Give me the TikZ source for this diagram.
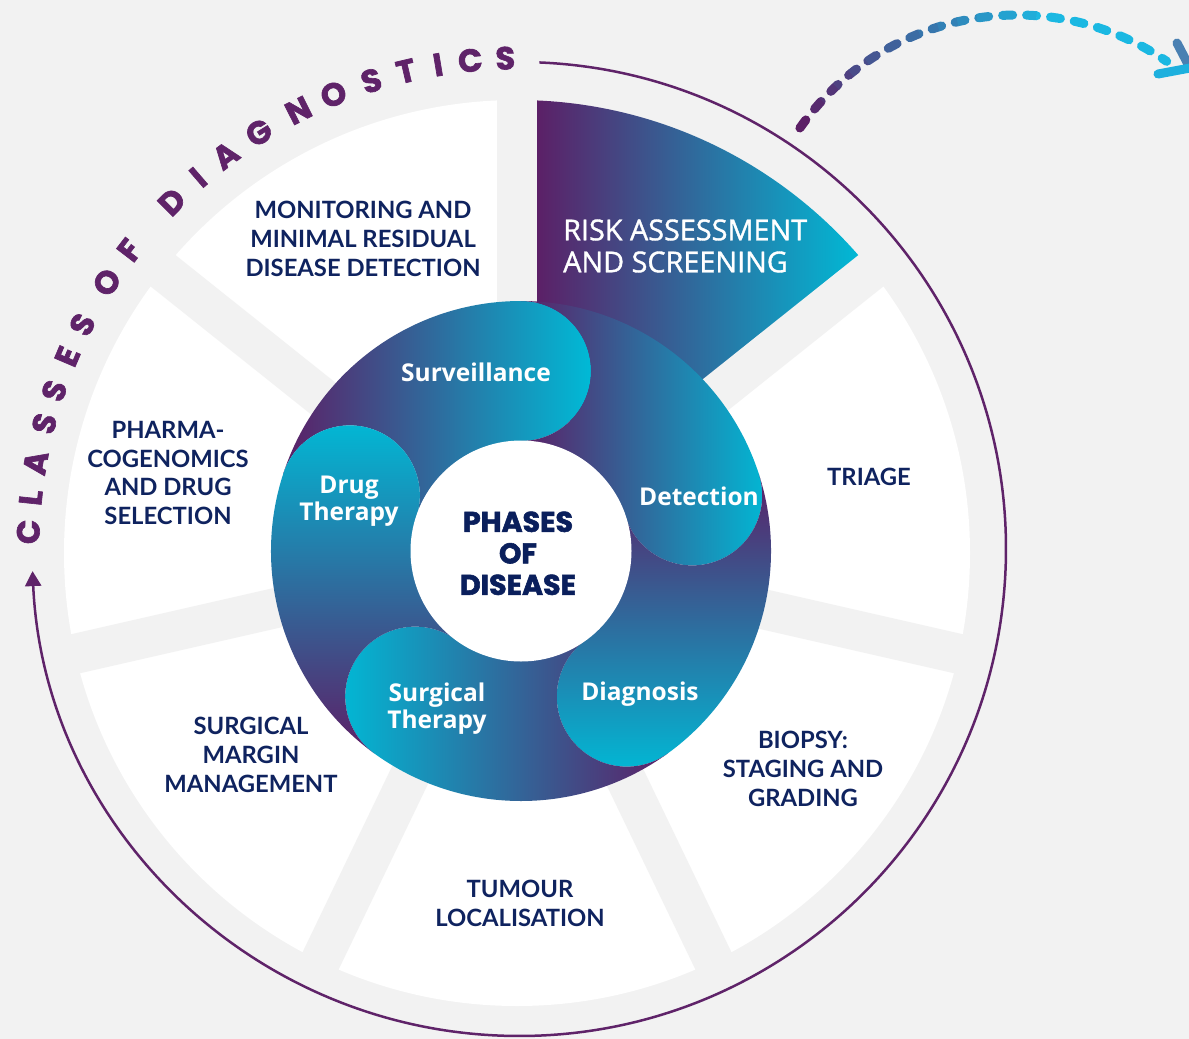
\documentclass[tikz,border=0pt]{standalone}
\usepackage{fontspec}
\setmainfont{Lato}
\newfontfamily\heavyfont{Poppins}[UprightFeatures={FakeBold=2}, BoldFeatures={FakeBold=2}]
\newfontfamily\osfont{Open Sans}
\newfontfamily\osmed{Open Sans}[UprightFeatures={FakeBold=1.2}]
\usetikzlibrary{arrows.meta}
\definecolor{bgc}{HTML}{F2F2F2}
\definecolor{purp}{HTML}{5C1F66}
\definecolor{cyn}{HTML}{00BAD6}
\definecolor{cyn2}{HTML}{1BB8E2}
\definecolor{navy}{HTML}{0F235F}
\definecolor{navyd}{HTML}{0A1F5C}
\definecolor{titlec}{HTML}{5F2369}
\begin{document}
\begin{tikzpicture}[x=1pt,y=1pt,
  lab/.style={text=navy, font=\fontsize{23.8}{28.7}\selectfont\bfseries, align=center, inner sep=0pt},
  risklab/.style={text=white, font=\osmed\fontsize{28.8}{32}\selectfont, align=left, inner sep=0pt},
  phlab/.style={text=white, font=\osfont\fontsize{24.5}{27}\selectfont\bfseries, align=center, inner sep=0pt},
  cenlab/.style={text=navyd, font=\heavyfont\bfseries\fontsize{28.5}{31.5}\selectfont, align=center, inner sep=0pt},
  titlel/.style={text=titlec, font=\heavyfont\bfseries\fontsize{32}{32}\selectfont, inner sep=0pt},
  shlr/.style={left color=purp, right color=cyn},
  shrl/.style={left color=cyn, right color=purp},
  shtb/.style={top color=purp, bottom color=cyn},
  shbt/.style={top color=cyn, bottom color=purp}]
\fill[bgc] (0,0) rectangle (1189,-1039);
\useasboundingbox (0,0) rectangle (1189,-1039);
\coordinate (sc) at (517,-553);
\coordinate (rc) at (521,-551);
\coordinate (cc) at (519,-549);
\coordinate (ac) at (1017,-280);

% white segments
\fill[white] (sc) circle[radius=453];
% risk segment
\begin{scope}
  \clip (sc) circle[radius=453];
  \clip (sc) -- ++(90:470) arc[start angle=90, end angle=38.571, radius=470] -- cycle;
  \shade[left color=purp, right color=cyn] (535,-95) rectangle (862,-420);
\end{scope}
% gaps
\foreach \a in {90,38.571,-12.857,-64.286,-115.714,-167.143,141.429}
  \draw[bgc, line width=40] (sc) -- ++(\a:475);

% phase ring
\foreach \h/\s in {90/shlr,18/shlr,-54/shtb,-126/shrl,162/shbt}
  \shade[\s, shift={(521,-551)}] (\h+72:250) arc[start angle=\h+72, end angle=\h, radius=250]
     arc[start angle=\h, end angle=\h-180, radius=70]
     arc[start angle=\h, end angle=\h+72, radius=110]
     arc[start angle=\h-108, end angle=\h+72, radius=70] -- cycle;
\fill[white] (rc) circle[radius=110.5];

% segment labels
\node[lab] (mon) at (363,-238.7) {MONITORING AND\\MINIMAL RESIDUAL\\DISEASE DETECTION};
\node[risklab, anchor=west] (risk) at (563,-246) {RISK ASSESSMENT\\AND SCREENING};
\node[lab] (tri) at (869,-477) {TRIAGE};
\node[lab] (bio) at (803,-769) {BIOPSY:\\STAGING AND\\GRADING};
\node[lab] (tum) at (520,-903.5) {TUMOUR\\LOCALISATION};
\node[lab] (sur) at (251,-755) {SURGICAL\\MARGIN\\MANAGEMENT};
\node[lab] (pha) at (168,-473) {PHARMA-\\COGENOMICS\\AND DRUG\\SELECTION};

% phase labels
\node[phlab] (p1) at (476,-372) {Surveillance};
\node[phlab] (p2) at (699,-496) {Detection};
\node[phlab] (p3) at (640,-694) {Diagnosis};
\node[phlab] (p4) at (437,-709) {Surgical\\Therapy};
\node[phlab] (p5) at (349,-501) {Drug\\Therapy};
\node[cenlab] (cen) at (518,-553.3) {PHASES\\OF\\DISEASE};

% outer circle with arrow
\draw[titlec, line width=2.5, -{Triangle[length=15, width=16]}] (cc) ++(87.6:487)
  arc[start angle=87.6, end angle=-177.4, radius=487];
\foreach \ang/\ch [count=\i] in {178.0/C,174.0/L,169.9/A,165.2/S,161.2/S,156.9/E,152.8/S,147.1/O,142.5/F,135.0/D,130.8/I,126.7/A,122.0/G,116.7/N,112.2/O,107.5/S,103.3/T,99.5/I,95.7/C,91.6/S}
  \path (cc) ++(\ang:491) node[titlel, rotate=\ang-90] (t\i) {\ch};

% dashed gradient arrow
\foreach \i in {0,...,21} {
  \pgfmathsetmacro\aa{146-\i*4.3}
  \pgfmathsetmacro\ab{\aa-4.4}
  \pgfmathsetmacro\pp{min(100,\i*100/14)}
  \colorlet{dc}{cyn2!\pp!purp}
  \begin{scope}
    \clip (ac) -- ++(\aa:400) arc[start angle=\aa, end angle=\ab, radius=400] -- cycle;
    \draw[dc, line width=9, line cap=round, dash pattern=on 10 off 14] (ac) ++(145:265)
      arc[start angle=145, end angle=55.6, radius=265];
  \end{scope}
}
\coordinate (hu) at (1177,-43);
\coordinate (ht) at (1190,-68);
\coordinate (hl) at (1158,-74);
\draw[color={rgb,255:red,74;green,128;blue,178}, line width=9, line cap=round] (hu) -- (ht);
\draw[color={rgb,255:red,30;green,176;blue,222}, line width=9, line cap=round] (hl) -- (ht);
\end{tikzpicture}
\end{document}
